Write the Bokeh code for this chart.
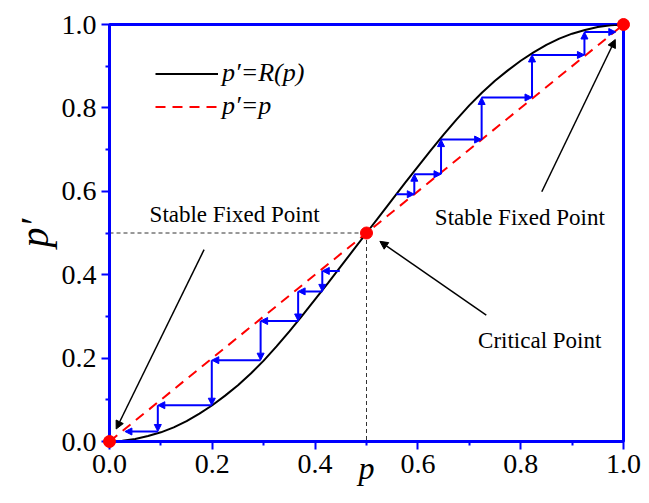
from bokeh.plotting import figure
from bokeh.models import (Range1d, FixedTicker, Arrow, NormalHead, ColumnDataSource,
                          Legend, LegendItem)
from bokeh.core.properties import value
from bokeh.embed import file_html
from bokeh.resources import INLINE

# ---------------- data ----------------
p_vals = [0.000, 0.025, 0.050, 0.075, 0.100, 0.125, 0.150, 0.175, 0.200, 0.225,
          0.250, 0.275, 0.300, 0.325, 0.350, 0.375, 0.400, 0.425, 0.450, 0.475,
          0.500, 0.525, 0.550, 0.575, 0.600, 0.625, 0.650, 0.675, 0.700, 0.725,
          0.750, 0.775, 0.800, 0.825, 0.850, 0.875, 0.900, 0.925, 0.950, 0.975, 1.000]
r_vals = [0.000, 0.002, 0.006, 0.013, 0.022, 0.034, 0.049, 0.067, 0.087, 0.110,
          0.135, 0.163, 0.194, 0.228, 0.264, 0.302, 0.341, 0.380, 0.420, 0.460,
          0.500, 0.540, 0.580, 0.620, 0.659, 0.698, 0.736, 0.772, 0.806, 0.837,
          0.865, 0.890, 0.913, 0.933, 0.951, 0.966, 0.978, 0.987, 0.994, 0.998, 1.000]
diag_p = [0.0, 1.0]
fixed_x = [0.0, 0.5, 1.0]
fixed_y = [0.0, 0.5, 1.0]
crit = 0.5

# cobweb iteration below the critical point (moves left / down)
low_px = [0.448, 0.414, 0.367, 0.294, 0.199, 0.094, 0.030]
low_py = [0.409, 0.360, 0.289, 0.195, 0.087, 0.024]
# cobweb iteration above the critical point (moves right / up)
up_px = [0.558, 0.593, 0.645, 0.724, 0.822, 0.924, 0.985]
up_py = [0.593, 0.641, 0.724, 0.825, 0.927, 0.982]

# annotation arrows
ann_x0 = [0.184, 0.841, 0.733]
ann_y0 = [0.460, 0.599, 0.303]
ann_x1 = [0.013, 0.984, 0.526]
ann_y1 = [0.030, 0.964, 0.480]

# annotation texts
txt = ["Stable Fixed Point", "Stable Fixed Point", "Critical Point"]
txt_x = [0.078, 0.633, 0.717]
txt_y = [0.545, 0.536, 0.242]

ticks = [0.0, 0.2, 0.4, 0.6, 0.8, 1.0]
minor_ticks = [0.1, 0.3, 0.5, 0.7, 0.9]
tick_labels = ["0.0", "0.2", "0.4", "0.6", "0.8", "1.0"]

FONT = "Liberation Serif"
BLUE = "#0000ff"

# ---------------- figure ----------------
p = figure(width=641, height=495, x_range=Range1d(0, 1), y_range=Range1d(0, 1),
           output_backend="svg", toolbar_location=None,
           min_border_left=109, min_border_right=18, min_border_top=24, min_border_bottom=54)
p.grid.visible = False
p.background_fill_color = "white"
p.border_fill_color = "white"
p.outline_line_color = BLUE
p.outline_line_width = 3
p.outline_line_alpha = 1.0

for ax in (p.xaxis[0], p.yaxis[0]):
    ax.ticker = FixedTicker(ticks=ticks, minor_ticks=minor_ticks)
    ax.major_label_overrides = {t: l for t, l in zip(ticks, tick_labels)}
    ax.axis_line_color = BLUE
    ax.axis_line_width = 3
    ax.major_tick_line_color = BLUE
    ax.major_tick_line_width = 2
    ax.major_tick_out = 8
    ax.major_tick_in = 0
    ax.minor_tick_line_color = BLUE
    ax.minor_tick_line_width = 2
    ax.minor_tick_out = 4
    ax.minor_tick_in = 0
    ax.major_label_text_font = FONT
    ax.major_label_text_font_size = "28px"
    ax.major_label_text_color = "black"
    ax.major_label_standoff = 5
    ax.axis_label_text_font = FONT
    ax.axis_label_text_font_style = "italic"
    ax.axis_label_text_color = "black"

p.yaxis.axis_label = "p\u2032"
p.yaxis.axis_label_text_font_size = "40px"
p.yaxis.axis_label_standoff = 2

p.xaxis.axis_label = "p"
p.xaxis.axis_label_text_font_size = "32px"
p.xaxis.axis_label_standoff = -26

# guide lines to the critical point
p.line([0, crit], [crit, crit], line_color="#333333", line_width=1, line_dash="4 3")
p.line([crit, crit], [crit, 0], line_color="#333333", line_width=1, line_dash="4 3")

# p' = p
diag = p.line(diag_p, diag_p, line_color="red", line_width=2, line_dash="10 7")
# p' = R(p)
curve = p.line(p_vals, r_vals, line_color="black", line_width=2)

# cobweb arrows
def stair_sources(px, py):
    h = ColumnDataSource(dict(x0=px[:-1], y0=py, x1=px[1:], y1=py))
    v = ColumnDataSource(dict(x0=px[1:-1], y0=py[:-1], x1=px[1:-1], y1=py[1:]))
    return h, v

for src in (*stair_sources(low_px, low_py), *stair_sources(up_px, up_py)):
    p.add_layout(Arrow(end=NormalHead(size=7, fill_color=BLUE, line_color=BLUE, line_width=1),
                       x_start="x0", y_start="y0", x_end="x1", y_end="y1",
                       line_color=BLUE, line_width=2, source=src))

# black annotation arrows
ann_src = ColumnDataSource(dict(x0=ann_x0, y0=ann_y0, x1=ann_x1, y1=ann_y1))
p.add_layout(Arrow(end=NormalHead(size=8, fill_color="black", line_color="black", line_width=1),
                   x_start="x0", y_start="y0", x_end="x1", y_end="y1",
                   line_color="black", line_width=1.5, source=ann_src))

# annotation texts
p.text(x=txt_x, y=txt_y, text=txt, text_font=value(FONT), text_font_size="23px",
       text_align="left", text_baseline="middle", text_color="black")

# fixed points
p.scatter(fixed_x, fixed_y, size=12, color="red", level="overlay")

legend = Legend(items=[LegendItem(label="p\u2032=R(p)", renderers=[curve]),
                       LegendItem(label="p\u2032=p", renderers=[diag])],
                location=(46, 320), glyph_width=63, glyph_height=29, label_height=29,
                spacing=3, padding=0, margin=0, border_line_color=None,
                background_fill_alpha=0, label_text_font=FONT,
                label_text_font_style="italic", label_text_font_size="26px",
                label_text_color="black", label_standoff=4)
p.add_layout(legend)

open("out.html", "w").write(file_html(p, INLINE))
